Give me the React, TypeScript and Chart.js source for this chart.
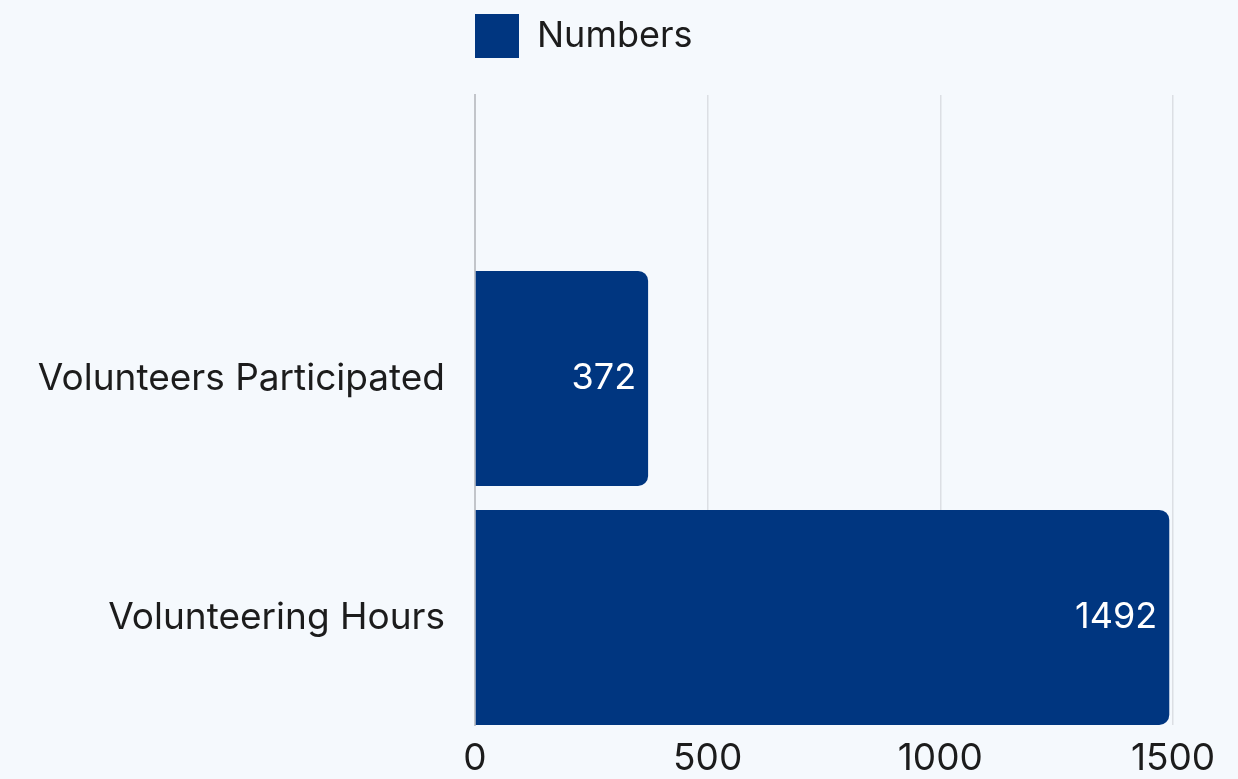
import React, { useEffect, useRef } from "react";
import { Chart, registerables } from "chart.js";

Chart.register(...registerables);

// ---- data ----
const categories = ["Volunteers Participated", "Volunteering Hours"];
const values = [372, 1492];
const seriesLabel = "Numbers";
const xTicks = [0, 500, 1000, 1500];

const FONT = "Inter, 'Noto Sans', sans-serif";
const TEXT = "#1c1c1c";
const BAR = "#003680";
const BG = "#f5f9fd";

export default function App() {
  const ref = useRef<HTMLCanvasElement>(null);

  useEffect(() => {
    document.documentElement.style.background = BG;
    document.body.style.margin = "0";
    document.body.style.background = BG;

    // top category gets the higher position on the index axis
    const positions = categories.map((_, i) => categories.length - 1 - i);
    const points = categories.map((_, i) => ({ x: values[i], y: positions[i] }));

    const valueLabels = {
      id: "valueLabels",
      afterDatasetsDraw(chart: any) {
        const ctx = chart.ctx;
        chart.getDatasetMeta(0).data.forEach((bar: any, i: number) => {
          ctx.save();
          ctx.fillStyle = "#ffffff";
          ctx.font = `36px ${FONT}`;
          ctx.textAlign = "right";
          ctx.textBaseline = "middle";
          ctx.fillText(String(values[i]), bar.x - 12, bar.y);
          ctx.restore();
        });
      },
    };

    const legendSpacer = {
      id: "legendSpacer",
      beforeInit(chart: any) {
        const lg = chart.legend;
        if (!lg) return;
        const orig = lg.fit;
        lg.fit = function () {
          orig.call(this);
          this.height = 81;
        };
      },
    };

    const chart = new Chart(ref.current as HTMLCanvasElement, {
      type: "bar",
      data: {
        datasets: [
          {
            label: seriesLabel,
            data: points as any,
            backgroundColor: BAR,
            borderWidth: 0,
            borderRadius: 10,
            categoryPercentage: 0.9,
            barPercentage: 1,
          },
        ],
      },
      options: {
        animation: false,
        responsive: true,
        maintainAspectRatio: false,
        indexAxis: "y",
        layout: { padding: { top: 14, right: 65, bottom: 1, left: 0 } },
        plugins: {
          legend: {
            position: "top",
            align: "start",
            fullSize: false,
            labels: {
              boxWidth: 44,
              boxHeight: 44,
              padding: 0,
              color: TEXT,
              font: { size: 36, family: FONT },
            },
          },
          tooltip: { enabled: false },
        },
        scales: {
          x: {
            type: "linear",
            min: xTicks[0],
            max: xTicks[xTicks.length - 1],
            afterBuildTicks: (s: any) => {
              s.ticks = xTicks.map((v) => ({ value: v }));
            },
            afterFit: (s: any) => {
              s.height = 53;
            },
            grid: { color: "#dcdfe4", lineWidth: 1.5, drawTicks: false },
            border: { display: false },
            ticks: {
              padding: 12,
              color: TEXT,
              font: { size: 37, family: FONT },
              callback: (v: any) => String(v),
            },
          },
          y: {
            type: "linear",
            offset: false,
            min: -0.45,
            max: 2.186,
            afterBuildTicks: (s: any) => {
              s.ticks = positions.map((v) => ({ value: v }));
            },
            afterFit: (s: any) => {
              s.width = 475;
            },
            grid: { display: false, drawTicks: false, offset: false },
            border: { display: true, color: "#c2c5ca", width: 2 },
            ticks: {
              padding: 30,
              color: TEXT,
              font: { size: 37, family: FONT },
              callback: (v: any) => {
                const i = positions.indexOf(Number(v));
                return i >= 0 ? categories[i] : "";
              },
            },
          },
        },
      },
      plugins: [valueLabels, legendSpacer],
    });

    return () => chart.destroy();
  }, []);

  return (
    <div style={{ width: 1238, height: 779, position: "relative" }}>
      <canvas ref={ref} />
    </div>
  );
}
